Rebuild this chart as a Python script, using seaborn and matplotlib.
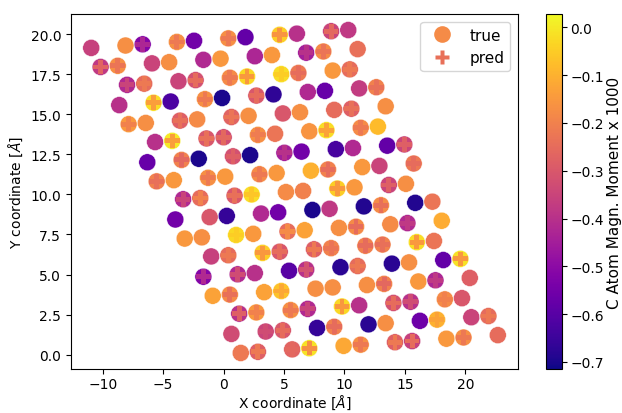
import numpy as np
import pandas as pd
import matplotlib
matplotlib.use("Agg")
import matplotlib.pyplot as plt
import seaborn as sns
from matplotlib.lines import Line2D

# ---- lattice description (graphene, armchair rows tilted ~3 deg)
BOND = 1.42            # C-C distance [A]
ROT_DEG = 3.0          # tilt of the armchair rows
ROW_ORIGIN = (1.42, 0.10)
CELL_ORIGIN = (0.03, 0.02)
CELL_LEN = 23.46       # periodic cell edge (120 deg cell)

# ---- true magnetic moments (x1000), bottom row first, left to right
true_moment = [
    -0.22, -0.28, -0.27, -0.01, -0.12, -0.17, -0.28, -0.36, -0.15, -0.17, -0.25,
    -0.33, -0.35, -0.30, -0.66, -0.20, -0.68, -0.17, -0.56, -0.10, -0.35, -0.25,
    -0.40, -0.15, -0.17, -0.42, -0.03, -0.40, -0.32, -0.40, -0.18, -0.30,
    -0.13, -0.18, -0.13, -0.07, -0.17, -0.17, -0.17, -0.20, -0.15, -0.43, -0.28,
    -0.52, -0.42, -0.40, -0.60, -0.40, -0.68, -0.25, -0.68, -0.17, -0.58, -0.01,
    -0.36, -0.25, -0.05, -0.30, -0.28, -0.20, -0.20, -0.20, -0.02, -0.23,
    -0.15, -0.17, -0.03, -0.15, -0.25, -0.13, -0.17, -0.18, -0.18, -0.42, -0.11,
    -0.55, -0.30, -0.66, -0.42, -0.55, -0.70, -0.38, -0.69, -0.18, -0.69, -0.23,
    -0.42, -0.25, -0.30, -0.02, -0.18, -0.20, -0.05, -0.15, -0.35, -0.17,
    -0.20, -0.15, -0.17, -0.15, -0.18, -0.15, -0.10, -0.20, -0.15, -0.35, -0.22,
    -0.57, -0.20, -0.70, -0.32, -0.70, -0.45, -0.55, -0.63, -0.42, -0.58, -0.35,
    -0.40, 0.00, -0.30, -0.33, -0.17, -0.23, -0.16, -0.02, -0.18, -0.08,
    -0.15, -0.17, -0.28, -0.18, -0.27, -0.17, -0.30, -0.17, -0.25, -0.28, -0.17,
    -0.40, -0.02, -0.62, -0.17, -0.70, -0.30, -0.67, -0.42, -0.57, -0.37, -0.20,
    -0.42, -0.25, -0.35, -0.32, -0.18, -0.03, -0.02, -0.22, -0.15, -0.25,
    -0.38, -0.17, -0.35, -0.17, -0.42, -0.15, -0.43, -0.15, -0.45, -0.18, -0.24,
    -0.36, -0.17, -0.52, -0.17, -0.55, -0.17, -0.58, -0.05, -0.40, -0.35, -0.38,
]

# ---- predicted magnetic moments (x1000), same order
pred_moment = [
    -0.22, -0.22, -0.26, -0.17, -0.12, -0.22, -0.22, -0.25, -0.15, -0.22, -0.25,
    -0.33, -0.33, -0.25, -0.66, -0.25, -0.68, -0.17, -0.56, -0.13, -0.35, -0.22,
    -0.28, -0.20, -0.22, -0.35, -0.15, -0.40, -0.25, -0.33, -0.20, -0.30,
    -0.13, -0.24, -0.13, -0.12, -0.17, -0.17, -0.17, -0.26, -0.15, -0.38, -0.28,
    -0.42, -0.33, -0.40, -0.60, -0.32, -0.68, -0.22, -0.68, -0.17, -0.58, -0.15,
    -0.36, -0.22, -0.15, -0.25, -0.22, -0.23, -0.25, -0.24, -0.15, -0.23,
    -0.15, -0.17, -0.05, -0.15, -0.18, -0.13, -0.17, -0.25, -0.18, -0.38, -0.11,
    -0.55, -0.30, -0.66, -0.42, -0.55, -0.70, -0.38, -0.69, -0.24, -0.69, -0.23,
    -0.35, -0.20, -0.24, -0.06, -0.18, -0.20, -0.15, -0.15, -0.28, -0.17,
    -0.24, -0.15, -0.22, -0.15, -0.22, -0.15, -0.10, -0.25, -0.15, -0.35, -0.25,
    -0.57, -0.26, -0.70, -0.28, -0.70, -0.40, -0.55, -0.63, -0.42, -0.58, -0.28,
    -0.40, -0.14, -0.24, -0.26, -0.21, -0.23, -0.16, -0.13, -0.22, -0.08,
    -0.20, -0.17, -0.24, -0.18, -0.23, -0.17, -0.30, -0.17, -0.25, -0.24, -0.17,
    -0.40, -0.14, -0.62, -0.22, -0.70, -0.25, -0.67, -0.42, -0.57, -0.37, -0.24,
    -0.35, -0.22, -0.35, -0.25, -0.22, -0.15, -0.05, -0.25, -0.15, -0.22,
    -0.27, -0.23, -0.35, -0.17, -0.42, -0.15, -0.43, -0.15, -0.40, -0.23, -0.24,
    -0.36, -0.17, -0.43, -0.22, -0.55, -0.22, -0.58, -0.16, -0.40, -0.26, -0.38,
]

color_range = (-0.715, 0.028)
colorbar_ticks = [0.0, -0.1, -0.2, -0.3, -0.4, -0.5, -0.6, -0.7]
legend_colors = {"true": -0.18, "pred": -0.24}

# ---- build atom positions of the periodic cell
th = np.deg2rad(ROT_DEG)
c, s = np.cos(th), np.sin(th)
row_h = np.sqrt(3) / 2 * BOND
cell_h = CELL_LEN * np.sqrt(3) / 2
atoms = []
for r in range(-3, 20):
    for m in range(-14, 16):
        if (m - r) % 2:
            continue
        for d in (0.0, BOND):
            u = 1.5 * BOND * m + d
            v = r * row_h
            x = ROW_ORIGIN[0] + u * c - v * s
            y = ROW_ORIGIN[1] + u * s + v * c
            T = y - CELL_ORIGIN[1]
            S = x - CELL_ORIGIN[0] + T / np.tan(np.pi / 3)
            if 0 <= S < CELL_LEN and 0 <= T < cell_h:
                atoms.append((r, x, y))
atoms.sort(key=lambda a: (a[0], a[1]))
assert len(atoms) == len(true_moment) == len(pred_moment), (len(atoms), len(true_moment), len(pred_moment))

df = pd.DataFrame({
    "x": [a[1] for a in atoms],
    "y": [a[2] for a in atoms],
    "true": true_moment,
    "pred": pred_moment,
})

fig = plt.figure(figsize=(6.22, 4.14), dpi=100)
ax = fig.add_axes([0.114, 0.106, 0.719, 0.858])
cax = fig.add_axes([0.878, 0.106, 0.026, 0.858])

cmap = plt.get_cmap("plasma")
norm = matplotlib.colors.Normalize(*color_range)

sns.scatterplot(data=df, x="x", y="y", hue="true", palette="plasma",
                hue_norm=color_range, s=150, marker="o", linewidth=0.3,
                edgecolor="white", legend=False, ax=ax)
sns.scatterplot(data=df, x="x", y="y", hue="pred", palette="plasma",
                hue_norm=color_range, s=110, marker="P", linewidth=0,
                legend=False, ax=ax)

ax.set_xlabel(r"X coordinate [$\AA$]", labelpad=1)
ax.set_ylabel(r"Y coordinate [$\AA$]")
ax.tick_params(axis="x", pad=2.5)

handles = [
    Line2D([], [], linestyle="none", marker="o", markersize=12,
           markerfacecolor=cmap(norm(legend_colors["true"])), markeredgecolor="none", label="true"),
    Line2D([], [], linestyle="none", marker="P", markersize=10.5,
           markerfacecolor=cmap(norm(legend_colors["pred"])), markeredgecolor="none", label="pred"),
]
ax.legend(handles=handles, loc="upper right", fontsize=11)

sm = matplotlib.cm.ScalarMappable(norm=norm, cmap=cmap)
cb = fig.colorbar(sm, cax=cax, ticks=colorbar_ticks)
cb.ax.tick_params(pad=2.5)
cb.set_label("C Atom Magn. Moment x 1000", fontsize=11, labelpad=2)

fig.savefig("out.png", dpi=100)
